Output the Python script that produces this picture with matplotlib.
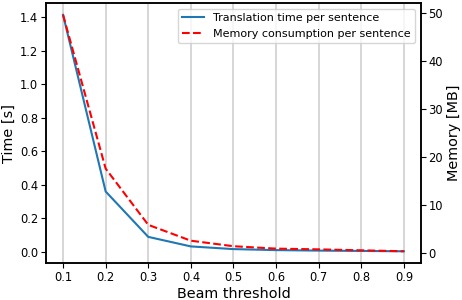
import numpy as np
import matplotlib
matplotlib.use('Agg')
import matplotlib.pyplot as plt

# beam threshold vs. translation time / memory per sentence
thresholds = [0.1, 0.2, 0.3, 0.4, 0.5, 0.6, 0.7, 0.8, 0.9]
time_s = [1.415, 0.36, 0.089, 0.032, 0.016, 0.010, 0.007, 0.005, 0.003]
memory_mb = [49.6, 17.6, 5.9, 2.6, 1.45, 0.95, 0.8, 0.6, 0.4]

plt.rcParams['axes.linewidth'] = 1.1

fig, ax1 = plt.subplots(figsize=(4.62, 3.0), dpi=100)
fig.subplots_adjust(left=0.0996, right=0.911, top=0.99, bottom=0.123)

l1, = ax1.plot(thresholds, time_s, '-', color='#1f77b4', lw=1.5, label='Translation time per sentence')
ax1.set_xlabel('Beam threshold', fontsize=10.4, labelpad=2)
ax1.set_ylabel('Time [s]', fontsize=10.4, labelpad=3)
ax1.set_xticks(thresholds)
ax1.xaxis.grid(True, color='#cccccc', linewidth=1.1)
ax1.tick_params(labelsize=8.3, pad=2)

ax2 = ax1.twinx()
l2, = ax2.plot(thresholds, memory_mb, '--', color='red', lw=1.5, label='Memory consumption per sentence')
ax2.set_ylabel('Memory [MB]', fontsize=10.4, labelpad=3)
ax2.tick_params(labelsize=8.3, pad=2)

ax1.legend(handles=[l1, l2], loc='upper right', fontsize=8)

fig.savefig('out.png')
